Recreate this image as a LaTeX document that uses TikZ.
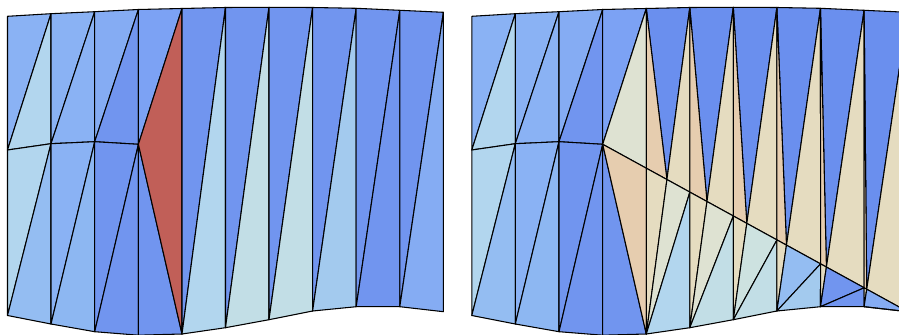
\documentclass[tikz,border=0pt]{standalone}
\usepackage{xcolor}
\definecolor{cPale}{HTML}{B2D6EE}
\definecolor{cIce}{HTML}{C2DEE6}
\definecolor{cSky}{HTML}{A3CAEE}
\definecolor{cMist}{HTML}{94BDF2}
\definecolor{cSoft}{HTML}{8AB2F4}
\definecolor{cBlush}{HTML}{8DB7F2}
\definecolor{cMid}{HTML}{85ACF3}
\definecolor{cDeep}{HTML}{7CA2F4}
\definecolor{cRoyal}{HTML}{7195EF}
\definecolor{cCobalt}{HTML}{6A8FEE}
\definecolor{cBrick}{HTML}{C15F58}
\definecolor{cPeach}{HTML}{E6CDAF}
\definecolor{cCream}{HTML}{E5DCC0}
\definecolor{cSage}{HTML}{DEE2D2}
\definecolor{cFrost}{HTML}{CDE2E0}
\tikzset{
	facet/.style={draw=black, line width=0.8pt, line join=round},
}
\newcommand{\tri}[4]{\draw[facet, fill=#1] (#2) -- (#3) -- (#4) -- cycle;}

\begin{document}
\begin{tikzpicture}[x=0.75pt, y=-0.75pt]
	\useasboundingbox (0,0) rectangle (899,335);
	\clip (0,0) rectangle (899,335);
	% vertices of both meshes
	\foreach \m/\dx in {a/0, b/464.3} {
		\foreach \i/\xx/\ytop/\ybot in {0/7.5/16.3/315.5, 1/51/13.7/324, 2/94.7/11.7/331.7, 3/138.4/9.5/335.2, 4/182/8.5/334, 5/225.5/7.5/327.7, 6/269/7.3/319.7, 7/312.6/7.5/311, 8/356.2/8.3/306.7, 9/399.8/10.3/306.7, 10/443.4/12.3/311.7} {
			\coordinate (\m t\i) at (\xx+\dx,\ytop);
			\coordinate (\m b\i) at (\xx+\dx,\ybot);
		}
		\foreach \i/\xx/\ymid in {0/7.5/150, 1/51/143.7, 2/94.7/141.7, 3/138.4/144.3} {
			\coordinate (\m m\i) at (\xx+\dx,\ymid);
		}
	}
	% left part, the same in both meshes
	\foreach \m in {a, b} {
		\foreach \i/\j/\cUL/\cLR/\cLL/\cBR in {0/1/cSoft/cPale/cPale/cMist, 1/2/cSoft/cSoft/cSoft/cBlush, 2/3/cMid/cRoyal/cRoyal/cRoyal} {
			\tri{\cUL}{\m t\i}{\m t\j}{\m m\i}
			\tri{\cLR}{\m t\j}{\m m\j}{\m m\i}
			\tri{\cLL}{\m m\i}{\m m\j}{\m b\i}
			\tri{\cBR}{\m m\j}{\m b\j}{\m b\i}
		}
		\tri{cDeep}{\m t3}{\m t4}{\m m3}
		\tri{cRoyal}{\m m3}{\m b4}{\m b3}
	}
	% left mesh
	\tri{cBrick}{am3}{at4}{ab4}
	\foreach \i/\j/\cUL/\cLR in {4/5/cRoyal/cPale, 5/6/cRoyal/cIce, 6/7/cRoyal/cIce, 7/8/cRoyal/cSky, 8/9/cRoyal/cRoyal, 9/10/cRoyal/cMid} {
		\tri{\cUL}{at\i}{at\j}{ab\i}
		\tri{\cLR}{at\j}{ab\j}{ab\i}
	}
	% right mesh, cut from bm3 to bb10
	\foreach \i in {4,...,9} {
		\pgfmathtruncatemacro{\j}{\i+1}
		\coordinate (bc\i) at (intersection cs: first line={(bm3)--(bb10)}, second line={(bt\i)--(bb\i)});
		\coordinate (bp\i) at (intersection cs: first line={(bm3)--(bb10)}, second line={(bb\i)--(bt\j)});
	}
	\coordinate (bc10) at (bb10);
	\tri{cSage}{bm3}{bt4}{bc4}
	\tri{cPeach}{bm3}{bc4}{bb4}
	\foreach \i/\j/\cUp/\cLow in {4/5/cSage/cPale, 5/6/cSage/cIce, 6/7/cFrost/cIce, 7/8/cMist/cSky, 8/9/cRoyal/cRoyal, 9/10/cMid/cMid} {
		\tri{cCobalt}{bt\i}{bt\j}{bp\i}
		\tri{cPeach}{bt\i}{bp\i}{bc\i}
		\tri{cCream}{bt\j}{bp\i}{bc\j}
		\tri{cCream}{bc\i}{bp\i}{bb\i}
		\tri{\cUp}{bb\i}{bp\i}{bc\j}
		\tri{\cLow}{bb\i}{bc\j}{bb\j}
	}
\end{tikzpicture}
\end{document}
